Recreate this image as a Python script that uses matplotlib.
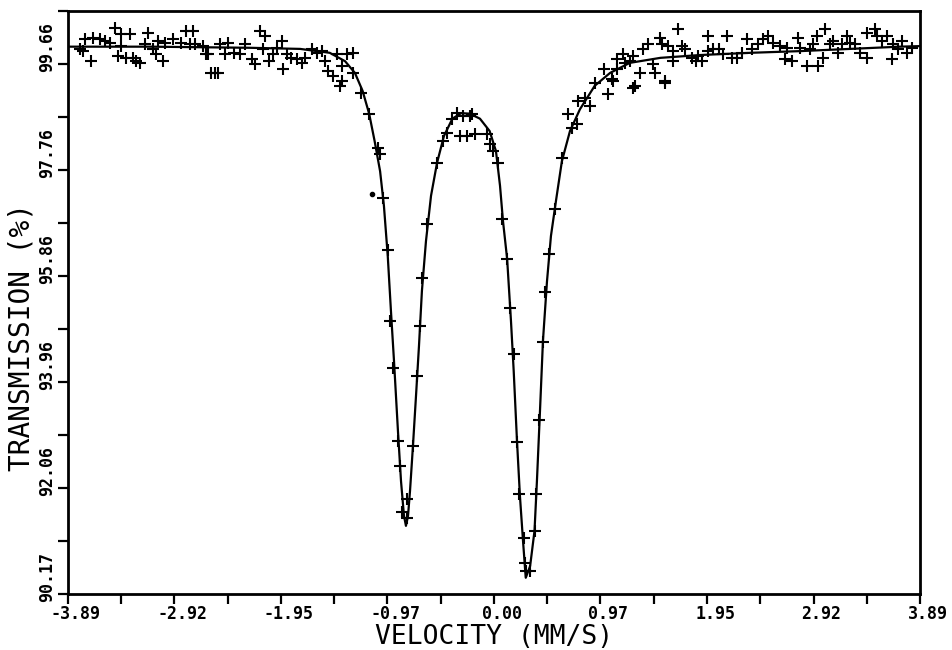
import matplotlib
matplotlib.use('Agg')
import matplotlib.pyplot as plt
from matplotlib.transforms import ScaledTranslation


# measured points (velocity mm/s, transmission %)
vel = [-3.78, -3.75, -3.68, -3.73, -3.66, -3.60, -3.55, -3.51, -3.46, -3.41,
       -3.32, -3.41, -3.43, -3.36, -3.30, -3.23, -3.27, -3.16, -3.19, -3.11,
       -3.07, -3.09, -3.02, -3.00, -2.93, -2.86, -2.81, -2.75, -2.78, -2.73,
       -2.66, -2.63, -2.58,
       -2.61, -2.55, -2.52, -2.50, -2.43, -2.46, -2.37, -2.32, -2.27, -2.21,
       -2.18, -2.14, -2.09, -2.11, -2.05, -2.02, -1.98, -1.94, -1.93, -1.89,
       -1.85, -1.80, -1.75, -1.73, -1.66, -1.62, -1.57, -1.54, -1.52, -1.47,
       -1.43, -1.39, -1.41, -1.34,
       -1.39, -1.29, -1.29, -1.21, -1.14, -1.06, -1.04,
       -1.01, -0.97, -0.95, -0.92, -0.88, -0.86, -0.84, -0.79, -0.79,
       -0.74, -0.70, -0.68, -0.66, -0.61,
       -0.52, -0.47, -0.43, -0.38, -0.34, -0.28, -0.22, -0.31, -0.25, -0.17,
       -0.20, -0.06, -0.04, -0.01, 0.04,
       0.07, 0.12, 0.15, 0.18, 0.21, 0.23, 0.27, 0.28, 0.29, 0.33,
       0.37, 0.38, 0.41, 0.45, 0.47, 0.50, 0.56,
       0.62, 0.71, 0.76, 0.68, 0.77, 0.83, 0.88, 0.92, 1.00, 1.04,
       1.09, 1.12,
       1.08, 1.12, 1.18, 1.20, 1.24, 1.29, 1.27, 1.33, 1.36, 1.41,
       1.45, 1.47, 1.52, 1.53, 1.56, 1.59, 1.63, 1.63, 1.68, 1.72,
       1.74, 1.81, 1.84, 1.86, 1.90, 1.95, 1.95, 2.00, 2.05, 2.09,
       2.13, 2.17, 2.22, 2.26, 2.31, 2.36, 2.41, 2.46, 1.27, 1.56,
       2.50, 2.55, 2.61, 2.66, 2.72, 2.68, 2.78, 2.79, 2.86, 2.96,
       2.89, 2.91, 2.95, 3.00, 3.02, 3.07, 3.10, 3.14, 3.18, 3.22,
       3.25, 3.30, 3.34, 3.41, 3.41, 3.48, 3.50, 3.54, 3.59, 3.63,
       3.64, 3.69, 3.73, 3.77, 3.82]

trans = [99.93, 99.89, 99.71, 100.11, 100.13, 100.11, 100.07, 100.04, 100.31, 100.20,
         100.20, 99.98, 99.80, 99.77, 99.77, 99.68, 99.71, 100.22, 100.02, 99.93,
         100.07, 99.84, 99.71, 100.04, 100.11, 100.04, 100.25, 100.25, 100.02, 100.02,
         99.98, 99.84, 99.50,
         99.84, 99.50, 99.50, 100.02, 100.04, 99.84, 99.86, 99.84, 100.02, 99.75,
         99.66, 100.25, 100.16, 99.93, 99.71, 99.84, 99.95, 100.07, 99.57, 99.84,
         99.77, 99.75, 99.68, 99.77, 99.93, 99.86, 99.89, 99.71, 99.53, 99.45,
         99.84, 99.62, 99.27, 99.84,
         99.36, 99.86, 99.50, 99.14, 98.77, 98.16, 98.05,
         97.26, 96.33, 95.06, 94.22, 92.91, 92.46, 91.64, 91.53, 91.87,
         92.82, 94.07, 94.97, 95.83, 96.80,
         97.89, 98.28, 98.42, 98.68, 98.78, 98.73, 98.73, 98.37, 98.37, 98.41,
         98.77, 98.41, 98.23, 98.10, 97.89,
         96.89, 96.17, 95.29, 94.47, 92.89, 91.96, 91.17, 90.73, 90.58, 90.58,
         91.30, 91.96, 93.29, 94.68, 95.58, 96.26, 97.06,
         97.98, 98.51, 98.59, 98.77, 99.00, 99.05, 98.91, 99.32, 99.57, 99.12,
         99.36, 99.75,
         99.39, 99.57, 99.84, 99.68, 99.71, 99.27, 99.80, 99.50, 99.93, 100.02,
         99.66, 99.50, 100.13, 100.02, 99.36, 99.98, 99.71, 99.89, 100.29, 99.98,
         99.93, 99.77, 99.71, 99.80, 99.71, 100.16, 99.89, 99.93, 99.93, 99.84,
         100.16, 99.77, 99.77, 99.86, 100.11, 99.93, 100.02, 100.11, 99.23, 99.32,
         100.16, 100.04, 99.98, 99.75, 99.71, 99.95, 100.13, 99.95, 99.62, 99.62,
         99.93, 100.02, 100.16, 99.77, 100.29, 100.02, 100.07, 99.86, 100.02, 100.16,
         100.04, 100.02, 99.86, 99.77, 100.22, 100.29, 100.16, 100.07, 100.16, 99.75,
         100.02, 99.93, 100.07, 99.86, 99.95]

# stray dot left of the first line
dot_vel = [-1.11]
dot_trans = [97.33]

# fitted curve
fit_vel = [-3.89, -3.14, -2.23, -1.77, -1.50, -1.36, -1.27, -1.20, -1.14, -1.09,
           -1.04, -1.005, -0.97, -0.941, -0.913, -0.877, -0.849, -0.822, -0.804, -0.785,
           -0.767, -0.740, -0.712, -0.685, -0.658, -0.621, -0.575, -0.52, -0.457, -0.38,
           -0.30, -0.22, -0.128, -0.04, 0.018, 0.055, 0.082, 0.12, 0.155, 0.18,
           0.21, 0.237, 0.265, 0.29, 0.33, 0.37, 0.392, 0.42, 0.447, 0.484,
           0.52, 0.566, 0.62, 0.694, 0.785, 0.92, 1.06, 1.24, 1.52, 1.88,
           2.34, 2.79, 3.25, 3.707, 3.89]
fit_trans = [99.97, 99.97, 99.95, 99.93, 99.86, 99.71, 99.50, 99.18, 98.77, 98.28,
             97.74, 97.12, 96.22, 95.24, 94.34, 93.09, 92.19, 91.57, 91.39, 91.57,
             92.01, 92.82, 93.72, 94.61, 95.60, 96.49, 97.30, 97.89, 98.37, 98.68,
             98.78, 98.77, 98.68, 98.46, 98.10, 97.48, 96.85, 96.17, 95.06, 94.16,
             92.91, 91.92, 91.12, 90.46, 90.67, 91.30, 92.19, 93.45, 94.70, 95.77,
             96.58, 97.21, 97.92, 98.46, 98.85, 99.27, 99.50, 99.68, 99.77, 99.82,
             99.86, 99.89, 99.93, 99.97, 99.98]

x_ticks = [-3.89, -2.9175, -1.945, -0.9725, 0.0, 0.9725, 1.945, 2.9175, 3.89]
x_labels = ['-3.89', '-2.92', '-1.95', '-0.97', '0.00', '0.97', '1.95', '2.92', '3.89']
y_ticks = [90.17, 92.068, 93.966, 95.864, 97.762, 99.66]
y_labels = ['90.17', '92.06', '93.96', '95.86', '97.76', '99.66']


fig = plt.figure(figsize=(9.52, 6.5), dpi=100)
ax = fig.add_axes([0.0714, 0.0862, 0.895, 0.8969])

ax.plot(fit_vel, fit_trans, color='black', lw=1.6, zorder=2)
ax.plot(vel, trans, ls='none', marker='+', ms=9, mew=1.5, color='black', zorder=3)
ax.plot(dot_vel, dot_trans, ls='none', marker='o', ms=3, color='black')

ax.set_xlim(-3.89, 3.89)
ax.set_ylim(90.17, 100.60)

ax.set_xticks(x_ticks)
ax.set_xticks([(a + b) / 2 for a, b in zip(x_ticks[:-1], x_ticks[1:])], minor=True)
ax.set_yticks(y_ticks)
ax.set_yticks([v + 0.949 for v in y_ticks], minor=True)
ax.tick_params(which='both', direction='out', length=7, width=1.6,
               labelbottom=False, labelleft=False)

# tick labels sit a little off their ticks, like the old plotter output
tick_font = dict(family='DejaVu Sans Mono', weight='bold', fontsize=12)
xoff = ax.get_xaxis_transform() + ScaledTranslation(0.08, -0.20, fig.dpi_scale_trans)
for v, s in zip(x_ticks, x_labels):
    ax.text(v, 0, s, transform=xoff, ha='center', va='center', **tick_font)
yoff = ax.get_yaxis_transform() + ScaledTranslation(-0.21, 0.17, fig.dpi_scale_trans)
for v, s in zip(y_ticks, y_labels):
    ax.text(0, v, s, transform=yoff, ha='center', va='center', rotation=90, **tick_font)

for sp in ax.spines.values():
    sp.set_linewidth(2)

ax.set_xlabel('VELOCITY (MM/S)', family='DejaVu Sans Mono', fontsize=19, va='center')
ax.xaxis.set_label_coords(0.5, -0.074)
ax.set_ylabel('TRANSMISSION (%)', family='DejaVu Sans Mono', fontsize=20, va='center')
ax.yaxis.set_label_coords(-0.054, 0.44)

fig.savefig('out.png', dpi=100)
